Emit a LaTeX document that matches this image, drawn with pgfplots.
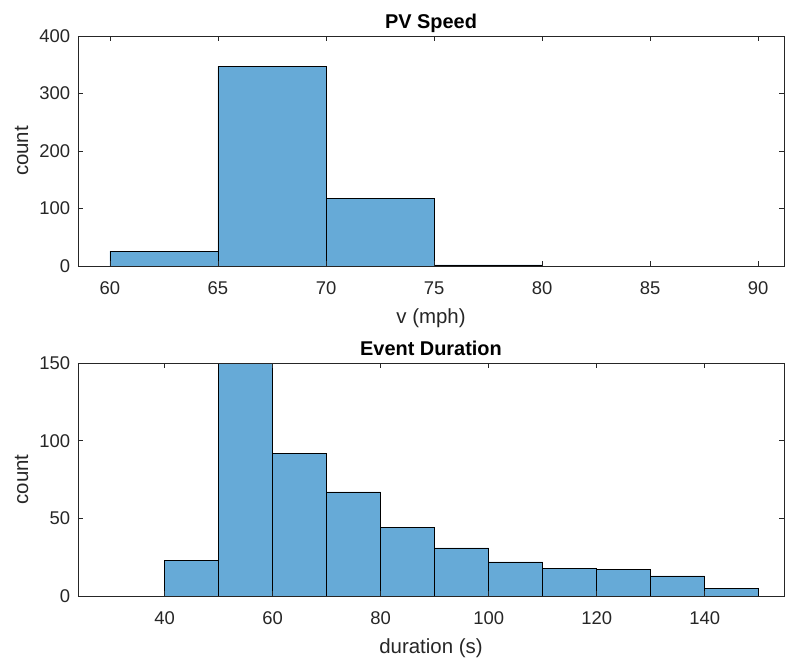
\documentclass[border=0pt]{standalone}
\usepackage{fontspec}
\setmainfont{Liberation Sans}
\usepackage{pgfplots}
\pgfplotsset{compat=1.18}
\definecolor{barblue}{RGB}{102,170,215}
\definecolor{axgray}{RGB}{38,38,38}
\pgfplotsset{
  myhist/.style={
    scale only axis,
    width=706bp,
    axis on top,
    tick align=inside,
    xtick pos=both, ytick pos=both,
    major tick length=5bp,
    axis line style={axgray, line width=0.6bp},
    tick style={axgray, line width=0.6bp},
    ticklabel style={font=\fontsize{18.5}{18.5}\selectfont, text=axgray},
    xticklabel style={anchor=base, yshift=-28bp},
    yticklabel style={anchor=east, inner sep=0pt, xshift=-7.7bp},
    label style={font=\fontsize{20.5}{20.5}\selectfont, text=axgray},
    xlabel style={at={(axis description cs:0.5,0)}, anchor=base, yshift=-57bp},
    ylabel style={at={(axis description cs:-0.0708,0.5)}, anchor=base},
    title style={font=\bfseries\fontsize{20}{20}\selectfont, text=black, at={(0.5,1)}, anchor=base, yshift=2bp},
    /pgf/number format/assume math mode=true,
    ymin=0,
    ylabel=count,
  },
  myhist bar/.style={ybar interval, fill=barblue, draw=black, line width=0.6bp},
}
\begin{document}
\begin{tikzpicture}
\begin{axis}[myhist,
  at={(0bp,0bp)}, anchor=south west,
  height=230bp,
  xmin=58.52, xmax=91.2, ymax=400,
  xtick={60,65,...,90}, ytick={0,100,...,400},
  xlabel={v (mph)},
  title={PV Speed}]
\addplot[myhist bar] coordinates {(60,26) (65,347) (70,117) (75,2) (80,2)};
\end{axis}
\begin{axis}[myhist,
  at={(0bp,-330bp)}, anchor=south west,
  height=233bp,
  xmin=23.95, xmax=154.7, ymax=150,
  xtick={40,60,...,140}, ytick={0,50,...,150},
  xlabel={duration (s)},
  title={Event Duration}]
\addplot[myhist bar] coordinates {(40,23) (50,150) (60,92) (70,67) (80,44) (90,31) (100,22) (110,18) (120,17) (130,13) (140,5) (150,5)};
\end{axis}
\pgfresetboundingbox
\path[use as bounding box] (-78bp,-392bp) rectangle (707bp,266bp);
\end{tikzpicture}
\end{document}
